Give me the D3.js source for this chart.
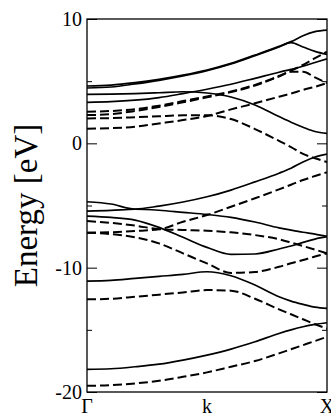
<!DOCTYPE html>
<html>
<head>
<meta charset="utf-8">
<script src="https://cdn.jsdelivr.net/npm/d3@7"></script>
<style>
  html, body { margin: 0; padding: 0; background: #fff; }
  svg { display: block; }
  text { font-family: "Liberation Serif", "DejaVu Serif", serif; fill: #000; }
</style>
</head>
<body>
<svg id="chart" width="331" height="416"></svg>
<script>
// ---- data ----
const kPoints = [0, 0.1, 0.2, 0.3, 0.4, 0.5, 0.6, 0.7, 0.8, 0.85, 0.9, 0.95, 1.0];
const kTickLabels = [["Γ", 0], ["k", 0.5], ["X", 1]];
const yMajorTicks = [-20, -10, 0, 10];
const yMinorTicks = [-15, -5, 5];

// solid bands (energy in eV at each kPoint)
const solid1 = [4.61, 4.68, 4.88, 5.15, 5.49, 5.9, 6.43, 7.1, 7.8, 8.18, 8.65, 8.98, 9.1];
const solid2 = [4.45, 4.53, 4.78, 5.07, 5.42, 5.84, 6.38, 7.05, 7.75, 8.1, 7.75, 7.4, 7.15];
const solid3 = [3.94, 3.96, 4.0, 4.07, 4.15, 4.05, 3.73, 3.09, 2.15, 1.7, 1.3, 0.95, 0.8];
const solid4 = [3.3, 3.35, 3.47, 3.68, 4.0, 4.35, 4.75, 5.23, 5.72, 5.95, 6.2, 6.5, 6.8];
const solid5 = [-4.7, -4.88, -5.28, -5.05, -4.72, -4.3, -3.76, -3.1, -2.4, -2.0, -1.5, -1.1, -0.86];
const solid6 = [-5.45, -5.4, -5.3, -5.38, -5.55, -5.72, -5.95, -6.33, -6.8, -6.98, -7.15, -7.3, -7.48];
const solid7 = [-5.85, -5.96, -6.17, -6.76, -7.56, -8.37, -8.93, -8.9, -8.5, -8.26, -7.97, -7.7, -7.51];
const solid8 = [-11.08, -11.02, -10.86, -10.7, -10.54, -10.33, -10.65, -11.4, -12.34, -12.69, -12.95, -13.17, -13.27];
const solid9 = [-18.18, -18.13, -17.97, -17.76, -17.43, -17.03, -16.55, -15.96, -15.29, -15.0, -14.75, -14.56, -14.43];

// dashed bands
const dashed1 = [2.54, 2.6, 2.75, 3.03, 3.4, 3.77, 4.17, 4.7, 5.42, 5.85, 6.3, 6.85, 7.37];
const dashed2 = [2.27, 2.35, 2.6, 2.92, 3.3, 3.7, 4.12, 4.65, 5.38, 5.75, 5.75, 5.3, 4.85];
const dashed3 = [2.0, 2.03, 2.1, 2.18, 2.25, 2.25, 1.95, 1.15, 0.2, -0.3, -0.85, -1.2, -1.5];
const dashed4 = [1.18, 1.22, 1.34, 1.6, 1.87, 2.2, 2.73, 3.22, 3.75, 4.0, 4.3, 4.55, 4.85];
const dashed5 = [-6.25, -6.4, -6.62, -6.9, -6.97, -7.03, -7.16, -7.38, -7.72, -7.98, -8.26, -8.55, -8.85];
const dashed6 = [-7.19, -7.15, -7.05, -6.92, -6.31, -5.77, -5.1, -4.42, -3.7, -3.33, -2.95, -2.63, -2.33];
const dashed7 = [-7.19, -7.3, -7.55, -8.05, -8.85, -9.66, -10.42, -10.35, -9.93, -9.65, -9.39, -9.1, -8.85];
const dashed8 = [-12.55, -12.5, -12.34, -12.17, -11.99, -11.8, -11.85, -12.5, -13.35, -13.75, -14.15, -14.55, -14.9];
const dashed9 = [-19.5, -19.45, -19.31, -19.1, -18.78, -18.42, -17.97, -17.51, -16.89, -16.56, -16.23, -15.9, -15.56];

const solidBands = [solid1, solid2, solid3, solid4, solid5, solid6, solid7, solid8, solid9];
const dashedBands = [dashed1, dashed2, dashed3, dashed4, dashed5, dashed6, dashed7, dashed8, dashed9];

// ---- layout ----
const svg = d3.select("#chart");
const plotLeft = 87, plotRight = 327, plotTop = 19, plotBottom = 392;

const x = d3.scaleLinear().domain([0, 1]).range([plotLeft, plotRight]);
const y = d3.scaleLinear().domain([-20, 10]).range([plotBottom, plotTop]);

svg.append("defs").append("clipPath").attr("id", "plotclip")
  .append("rect").attr("x", plotLeft).attr("y", plotTop)
  .attr("width", plotRight - plotLeft).attr("height", plotBottom - plotTop);

const line = d3.line()
  .x((d, i) => x(kPoints[i]))
  .y(d => y(d))
  .curve(d3.curveMonotoneX);

const g = svg.append("g").attr("clip-path", "url(#plotclip)");

g.selectAll("path.solid").data(solidBands).join("path")
  .attr("class", "solid")
  .attr("d", line)
  .attr("fill", "none")
  .attr("stroke", "#000")
  .attr("stroke-width", 1.7);

g.selectAll("path.dashed").data(dashedBands).join("path")
  .attr("class", "dashed")
  .attr("d", line)
  .attr("fill", "none")
  .attr("stroke", "#000")
  .attr("stroke-width", 2)
  .attr("stroke-dasharray", "9,4");

// ticks (inward, both sides)
const axL = d3.axisLeft(y).tickValues(yMajorTicks).tickSize(-10).tickFormat("");
const axLm = d3.axisLeft(y).tickValues(yMinorTicks).tickSize(-5).tickFormat("");
const axR = d3.axisRight(y).tickValues(yMajorTicks).tickSize(-10).tickFormat("");
const axRm = d3.axisRight(y).tickValues(yMinorTicks).tickSize(-5).tickFormat("");
[[axL, plotLeft], [axLm, plotLeft], [axR, plotRight], [axRm, plotRight]].forEach(([ax, px]) => {
  const a = svg.append("g").attr("transform", `translate(${px},0)`).call(ax);
  a.select(".domain").remove();
  a.selectAll("line").attr("stroke", "#000").attr("stroke-width", 1);
});

// frame
svg.append("rect")
  .attr("x", plotLeft).attr("y", plotTop)
  .attr("width", plotRight - plotLeft).attr("height", plotBottom - plotTop)
  .attr("fill", "none").attr("stroke", "#000").attr("stroke-width", 1.3);

// y tick labels
svg.selectAll("text.ylab").data(yMajorTicks).join("text")
  .attr("class", "ylab")
  .attr("x", plotLeft - 5)
  .attr("y", d => y(d))
  .attr("dy", "0.35em")
  .attr("text-anchor", "end")
  .attr("font-size", 20)
  .text(d => d);

// x tick labels
svg.selectAll("text.xlab").data(kTickLabels).join("text")
  .attr("class", "xlab")
  .attr("x", d => x(d[1]))
  .attr("y", 413)
  .attr("text-anchor", "middle")
  .attr("font-size", 20)
  .text(d => d[0]);

// axis title
svg.append("text")
  .attr("transform", `translate(37,${(plotTop + plotBottom) / 2}) rotate(-90)`)
  .attr("text-anchor", "middle")
  .attr("font-size", 33)
  .text("Energy [eV]");
</script>
</body>
</html>
